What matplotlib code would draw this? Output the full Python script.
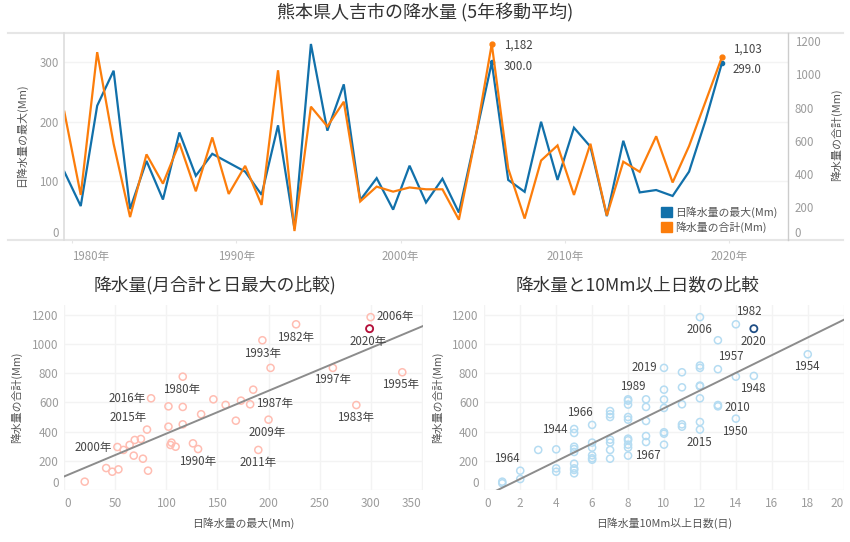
import matplotlib
matplotlib.use("Agg")
import matplotlib.pyplot as plt
import numpy as np
from matplotlib.lines import Line2D
from matplotlib.patches import Patch

plt.rcParams['font.family'] = ['Noto Sans CJK JP', 'DejaVu Sans']

W, H = 850, 542

# 1980-2020
years = list(range(1980, 2021))
rain_max = [116, 58, 227, 286, 53, 134, 69, 182, 109, 146, 131, 116, 77, 194, 20, 331, 185, 263, 68, 105, 52,
            126, 64, 104, 47, 173, 300, 102, 82, 200, 102, 190, 158, 41, 168, 81, 85, 75, 116, 202, 299]
rain_total = [775, 274, 1133, 581, 141, 518, 342, 586, 296, 620, 280, 449, 214, 1024, 57, 805, 686, 835, 235, 324, 294,
              319, 308, 308, 125, 611, 1182, 433, 132, 481, 572, 274, 582, 150, 474, 413, 627, 349, 568, 835, 1103]

# right scatter, all years
days = [1, 1,
        2, 2,
        3,
        4, 4, 4,
        5, 5, 5, 5, 5, 5, 5, 5, 5,
        6, 6, 6, 6, 6, 6,
        7, 7, 7, 7, 7, 7, 7,
        8, 8, 8, 8, 8, 8, 8, 8, 8, 8,
        9, 9, 9, 9, 9,
        10, 10, 10, 10, 10, 10, 10,
        11, 11, 11, 11, 11,
        12, 12, 12, 12, 12, 12, 12, 12,
        13, 13, 13, 13,
        14, 14, 14,
        15,
        18]
day_totals = [57, 46,
              132, 75,
              274,
              278, 148, 125,
              417, 390, 296, 280, 260, 180, 148, 137, 114,
              445, 324, 290, 237, 217, 207,
              540, 518, 499, 344, 324, 274, 214,
              620, 611, 584, 499, 481, 351, 340, 310, 290, 235,
              620, 568, 472, 369, 328,
              835, 686, 618, 561, 395, 385, 310,
              805, 702, 586, 449, 433,
              1182, 851, 835, 714, 709, 627, 465, 413,
              1024, 826, 581, 572,
              1133, 775, 488,
              780,
              928]

left_label_years = [2006, 1982, 2020, 1993, 1997, 1995, 1980, 2016, 1987, 1983, 2015, 2009, 2000, 1990, 2011]
right_label_names = ['1982', '2006', '2020', '1957', '2019', '1954', '1948', '1989', '2010', '1966', '1944',
                     '1950', '2015', '1967', '1964']
right_label_days = [14, 12, 15, 13, 10, 18, 15, 8, 13, 6, 5, 14, 12, 8, 2]
right_label_totals = [1133, 1182, 1103, 826, 835, 928, 780, 620, 581, 445, 417, 488, 413, 235, 132]
highlight_total = 1103
highlight_max = 299
highlight_days = 15

xtick_years = [1980, 1990, 2000, 2010, 2020]
left_ticks = [0, 100, 200, 300]
right_ticks = [0, 200, 400, 600, 800, 1000, 1200]

BLUE = '#1170aa'
ORANGE = '#fc7d0b'
TICK = '#9c9c9c'
LABEL = '#555555'
TEXT = '#444444'
GRID = '#f3f3f3'


def axes_px(fig, left, top, right, bottom):
    return fig.add_axes([left / W, 1 - bottom / H, (right - left) / W, (bottom - top) / H])


def text_px(fig, x, y, s, **kw):
    kw.setdefault('ha', 'center')
    kw.setdefault('va', 'center')
    fig.text(x / W, 1 - y / H, s, **kw)


def line_px(fig, x0, y0, x1, y1, color, lw):
    fig.add_artist(Line2D([x0 / W, x1 / W], [1 - y0 / H, 1 - y1 / H], color=color, lw=lw))


def clean(ax):
    for s in ax.spines.values():
        s.set_visible(False)
    ax.set_axisbelow(True)


fig = plt.figure(figsize=(W / 100, H / 100), dpi=100)

# ---- top line chart
ax = axes_px(fig, 64.3, 32.7, 787.7, 240.5)
clean(ax)
ax.plot(years, rain_max, color=BLUE, lw=1.6, solid_joinstyle='miter')
ax.set_xlim(1980, 2024)
ax.set_ylim(0, 350)
ax.set_yticks(left_ticks)
ax.set_xticks([y + 0.45 for y in xtick_years])
ax.set_xticklabels([f'{y}年' for y in xtick_years])
ax.grid(axis='y', color=GRID, lw=1)
ax.tick_params(axis='y', length=0, pad=4, labelsize=8.3, labelcolor=TICK)
ax.tick_params(axis='x', length=2, color='#e6e6e6', pad=5, labelsize=8.3, labelcolor=TICK)
ax.get_xticklabels()[0].set_ha('left')
ax.get_yticklabels()[0].set_va('bottom')
ax.plot([years[26], years[40]], [rain_max[26], rain_max[40]], ls='', marker='o', ms=3, color=BLUE)

ax2 = ax.twinx()
clean(ax2)
ax2.plot(years, rain_total, color=ORANGE, lw=1.6, solid_joinstyle='miter')
ax2.plot([years[26], years[40]], [rain_total[26], rain_total[40]], ls='', marker='o', ms=3.5, color=ORANGE)
ax2.set_ylim(0, 1250)
ax2.set_yticks(right_ticks)
ax2.tick_params(axis='y', length=0, pad=5, labelsize=8.3, labelcolor=TICK)
ax2.get_yticklabels()[0].set_va('bottom')

ax2.annotate(f'{rain_total[26]:,}', (years[26], rain_total[26]), xytext=(19, -1), textcoords='offset points',
             fontsize=8.3, color=TEXT, ha='center', va='center')
ax2.annotate(f'{rain_total[40]:,}', (years[40], rain_total[40]), xytext=(18, 5.5), textcoords='offset points',
             fontsize=8.3, color=TEXT, ha='center', va='center')
ax.annotate(f'{rain_max[26]:.1f}', (years[26], rain_max[26]), xytext=(19, -3), textcoords='offset points',
            fontsize=8.3, color=TEXT, ha='center', va='center')
ax.annotate(f'{rain_max[40]:.1f}', (years[40], rain_max[40]), xytext=(18, -5), textcoords='offset points',
            fontsize=8.3, color=TEXT, ha='center', va='center')

handles = [Patch(color=BLUE, label='日降水量の最大(Mm)'), Patch(color=ORANGE, label='降水量の合計(Mm)')]
fig.legend(handles=handles, loc='upper left', bbox_to_anchor=(657 / W, 1 - 202 / H), frameon=False, fontsize=7.8,
           labelcolor=LABEL, handlelength=0.95, handleheight=0.95, handletextpad=0.35, labelspacing=0.3,
           borderpad=0.4, borderaxespad=0)

line_px(fig, 8, 32.7, 843, 32.7, '#e6e6e6', 1.5)
line_px(fig, 8, 240.5, 843, 240.5, '#e6e6e6', 1.5)
line_px(fig, 64.3, 32.7, 64.3, 240.5, '#dddddd', 1.2)
line_px(fig, 787.7, 32.7, 787.7, 240.5, '#cccccc', 1)

text_px(fig, 425, 13, '熊本県人吉市の降水量 (5年移動平均)', fontsize=13, color='#333333')
text_px(fig, 21, 135, '日降水量の最大(Mm)', fontsize=7.9, color=LABEL, rotation=90)
text_px(fig, 836, 135, '降水量の合計(Mm)', fontsize=7.9, color=LABEL, rotation=90)

# ---- left scatter
ax3 = axes_px(fig, 64.3, 305, 422.7, 490)
clean(ax3)
ax3.set_xlim(0, 351)
ax3.set_ylim(0, 1265)
ax3.set_xticks(range(0, 351, 50))
ax3.set_yticks(range(0, 1201, 200))
ax3.grid(color=GRID, lw=1)
ax3.tick_params(length=0, labelsize=8.5, labelcolor=TICK)
ax3.tick_params(axis='x', pad=5)
ax3.tick_params(axis='y', pad=4)
ax3.get_xticklabels()[0].set_ha('left')
ax3.get_xticklabels()[-1].set_ha('right')
ax3.get_yticklabels()[0].set_va('bottom')
ax3.scatter(rain_max, rain_total, s=26, facecolors='none', edgecolors='#ffbdb2', linewidths=1.1, clip_on=False)
ax3.scatter([highlight_max], [highlight_total], s=26, facecolors='none', edgecolors='#b2103c', linewidths=1.3)
b, a = np.polyfit(rain_max, rain_total, 1)
xs = np.array(ax3.get_xlim())
ax3.plot(xs, a + b * xs, color='#8c8c8c', lw=1.4)

left_offsets = [(74, 1), (-3, -39), (-4, -38), (-1, -39), (-1, -36), (-4, -38), (-4, -39), (-72, 0), (74, 1),
                (-1, -38), (-56, 36), (-3, -38), (-73, 0), (-2, -37), (-2, -38)]
for yr, (dx, dy) in zip(left_label_years, left_offsets):
    i = years.index(yr)
    ax3.annotate(f'{yr}年', (rain_max[i], rain_total[i]), xytext=(dx * 0.24, dy * 0.24), textcoords='offset points',
                 fontsize=8.3, color=TEXT, ha='center', va='center')

text_px(fig, 215, 285, '降水量(月合計と日最大の比較)', fontsize=12.8, color='#333333')
text_px(fig, 243, 523, '日降水量の最大(Mm)', fontsize=7.8, color=LABEL)
text_px(fig, 16, 397, '降水量の合計(Mm)', fontsize=7.8, color=LABEL, rotation=90)

# ---- right scatter
ax4 = axes_px(fig, 484.3, 305, 843.7, 490)
clean(ax4)
ax4.set_xlim(0, 20)
ax4.set_ylim(0, 1265)
ax4.set_xticks(range(0, 21, 2))
ax4.set_yticks(range(0, 1201, 200))
ax4.grid(color=GRID, lw=1)
ax4.tick_params(length=0, labelsize=8.5, labelcolor=TICK)
ax4.tick_params(axis='x', pad=5)
ax4.tick_params(axis='y', pad=4)
ax4.get_xticklabels()[0].set_ha('left')
ax4.get_xticklabels()[-1].set_ha('right')
ax4.get_yticklabels()[0].set_va('bottom')
ax4.scatter(days, day_totals, s=26, facecolors='none', edgecolors='#b5dcf2', linewidths=1.1, clip_on=False)
ax4.scatter([highlight_days], [highlight_total], s=26, facecolors='none', edgecolors='#1f4e85', linewidths=1.3)
b, a = np.polyfit(days + [highlight_days], day_totals + [highlight_total], 1)
xs = np.array(ax4.get_xlim())
ax4.plot(xs, a + b * xs, color='#8c8c8c', lw=1.4)

right_offsets = [(39, 37), (-2, -38), (-2, -38), (40, 37), (-59, 0), (-2, -37), (-2, -39), (14, 38), (59, -6),
                 (-38, 36), (-59, 0), (-2, -39), (-2, -38), (58, -1), (-39, 36)]
for name, d, t, (dx, dy) in zip(right_label_names, right_label_days, right_label_totals, right_offsets):
    ax4.annotate(name, (d, t), xytext=(dx * 0.24, dy * 0.24), textcoords='offset points',
                 fontsize=8.3, color=TEXT, ha='center', va='center')

text_px(fig, 637, 285, '降水量と10Mm以上日数の比較', fontsize=12.7, color='#333333')
text_px(fig, 664, 523, '日降水量10Mm以上日数(日)', fontsize=7.8, color=LABEL)
text_px(fig, 437, 397, '降水量の合計(Mm)', fontsize=7.8, color=LABEL, rotation=90)

fig.savefig('out.png', dpi=100)
